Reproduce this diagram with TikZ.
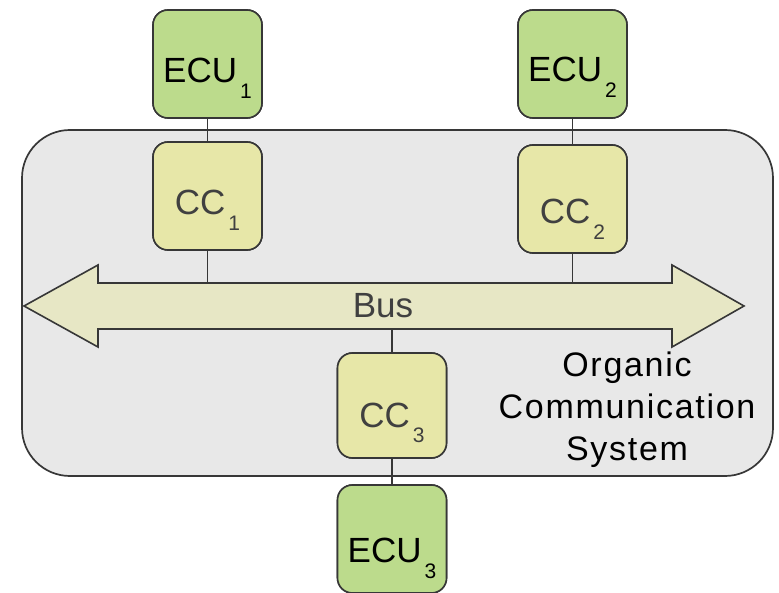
\documentclass[tikz,border=0pt]{standalone}
\usepackage{fontspec}
\setmainfont{Liberation Sans}
\newcommand\subnum[1]{\kern3pt\raisebox{-16pt}{\fontsize{21}{21}\selectfont #1}}
\definecolor{ecufill}{RGB}{188,219,140}
\definecolor{ccfill}{RGB}{231,231,168}
\definecolor{busfill}{RGB}{231,231,197}
\definecolor{ocsfill}{RGB}{232,232,232}
\definecolor{edge}{RGB}{55,55,55}
\definecolor{softtext}{RGB}{64,64,64}
\begin{document}
\begin{tikzpicture}[x=1pt,y=-1pt,
  box/.style={draw=edge,line width=1.6pt,rounded corners=15pt,inner sep=0pt},
  ecubox/.style={box,fill=ecufill,minimum width=109pt,minimum height=108pt},
  ccbox/.style={box,fill=ccfill,minimum width=109pt,minimum height=108pt},
  big/.style={font=\fontsize{35}{35}\selectfont,inner sep=0pt},
  link/.style={draw=edge,line width=1.6pt}]
\useasboundingbox (0,0) rectangle (779,593);

% organic communication system background
\draw[draw=edge,line width=1.7pt,fill=ocsfill,rounded corners=48pt] (22,130) rectangle (773,476);
\node[align=center,inner sep=0pt,anchor=base,font=\fontsize{34}{42}\selectfont\addfontfeatures{LetterSpace=5}] (ocs) at (627,460)
  {Organic\\Communication\\System};

% connection points on the bus
\coordinate (bt1) at (207.5,283);
\coordinate (bt2) at (572.5,283);
\coordinate (bb3) at (392,329);

% boxes and the links between them
\node[ecubox] (e1) at (207.5,64) {};
\node[ecubox] (e2) at (572.5,64) {};
\node[ccbox] (c1) at (207.5,196) {};
\node[ccbox] (c2) at (572.5,199) {};
\node[ccbox,minimum height=105pt] (c3) at (392,405.5) {};
\node[ecubox] (e3) at (392,539) {};
\draw[link] (e1) -- (c1) (c1) -- (bt1);
\draw[link] (e2) -- (c2) (c2) -- (bt2);
\draw[link] (bb3) -- (c3) (c3) -- (e3);
% redraw boxes on top of the lines
\node[ecubox] at (e1) {};
\node[ecubox] at (e2) {};
\node[ccbox] at (c1) {};
\node[ccbox] at (c2) {};
\node[ccbox,minimum height=105pt] at (c3) {};
\node[ecubox] at (e3) {};

% double-headed bus arrow
\draw[draw=edge,line width=1.6pt,fill=busfill,line join=miter]
  (24,306) -- (98,265) -- (98,283) -- (672,283) -- (672,265) -- (744,306)
  -- (672,347) -- (672,329) -- (98,329) -- (98,347) -- cycle;
\node[big,anchor=base,text=softtext] (bus) at (383,318) {Bus};

% box labels
\node[big,anchor=base] (e1t) at (207.5,83) {ECU\subnum{1}};
\node[big,anchor=base] (e2t) at (572.5,82) {ECU\subnum{2}};
\node[big,anchor=base] (e3t) at (392,562) {ECU\subnum{3}};
\node[big,anchor=base,text=softtext] (c1t) at (207.5,215) {CC\subnum{1}};
\node[big,anchor=base,text=softtext] (c2t) at (572.5,224) {CC\subnum{2}};
\node[big,anchor=base,text=softtext] (c3t) at (392,427) {CC\subnum{3}};
\end{tikzpicture}
\end{document}
